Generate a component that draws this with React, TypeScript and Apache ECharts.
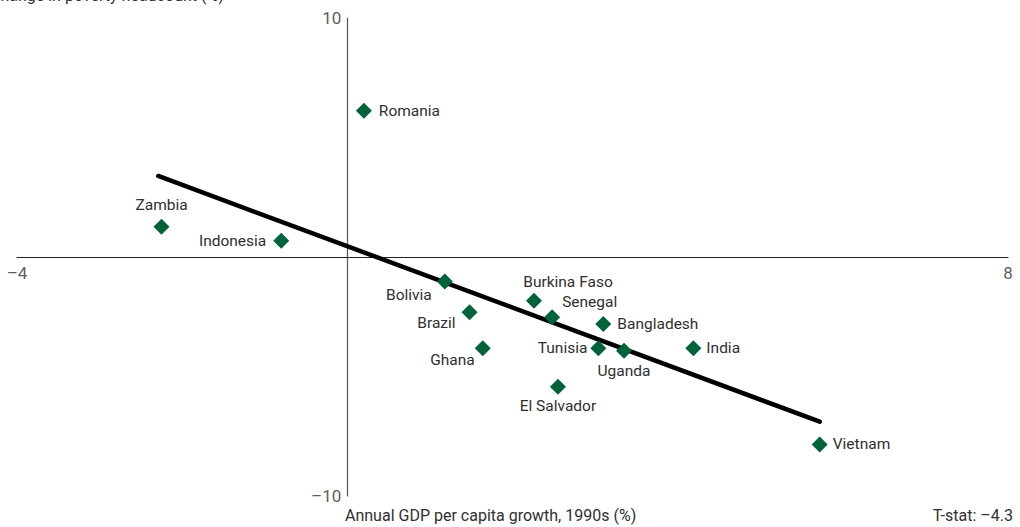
import React, { useEffect, useRef } from "react";
import * as echarts from "echarts";

const countries = ["Romania", "Zambia", "Indonesia", "Bolivia", "Brazil", "Ghana", "Burkina Faso", "Senegal", "Bangladesh", "Tunisia", "Uganda", "India", "El Salvador", "Vietnam"];
const growth = [0.2, -2.25, -0.8, 1.18, 1.48, 1.64, 2.26, 2.48, 3.1, 3.04, 3.35, 4.19, 2.55, 5.72];
const povertyChange = [6.12, 1.27, 0.68, -1.03, -2.31, -3.82, -1.83, -2.52, -2.8, -3.82, -3.92, -3.82, -5.43, -7.84];
const fitLine = [[-2.29, 3.39], [5.72, -6.89]];
const xTicks = [-4, 8];
const yTicks = [-10, 10];
const yTitle = "Change in poverty headcount (%)";
const xTitle = "Annual GDP per capita growth, 1990s (%)";
const note = "T-stat: \u20134.3";

const labelStyle: Record<string, any> = {
  Romania: { position: "right", distance: 7 },
  Zambia: { position: "top", distance: 6 },
  Indonesia: { position: "left", distance: 7 },
  Bolivia: { position: "left", distance: 5, offset: [0, 13] },
  Brazil: { position: "left", distance: 6, offset: [0, 11] },
  Ghana: { position: "left", distance: 0, offset: [0, 12] },
  "Burkina Faso": { position: "top", distance: 3, offset: [34, 0] },
  Senegal: { position: "right", distance: 2, offset: [0, -15] },
  Bangladesh: { position: "right", distance: 6 },
  Tunisia: { position: "left", distance: 3 },
  Uganda: { position: "bottom", distance: 4 },
  India: { position: "right", distance: 5 },
  "El Salvador": { position: "bottom", distance: 3 },
  Vietnam: { position: "right", distance: 5 },
};

const FONT = "Roboto, 'Liberation Sans', sans-serif";
const TEXT = "#303030";
const dash = (v: number) => String(v).replace("-", "\u2013");

export default function App() {
  const ref = useRef<HTMLDivElement>(null);
  useEffect(() => {
    if (!ref.current) return;
    const chart = echarts.init(ref.current, null, { renderer: "svg" });
    const tickLabel = { show: true, color: TEXT, fontSize: 17, fontFamily: FONT, formatter: (p: any) => p.name };
    chart.setOption({
      animation: false,
      grid: { left: 17, right: 12, top: 18, bottom: 31, containLabel: false },
      xAxis: {
        type: "value",
        min: -4,
        max: 8,
        splitLine: { show: false },
        axisLine: { onZero: true, lineStyle: { color: "#222", width: 1.2 } },
        axisTick: { show: false },
        axisLabel: { show: false },
      },
      yAxis: {
        type: "value",
        min: -10,
        max: 10,
        splitLine: { show: false },
        axisLine: { onZero: true, lineStyle: { color: "#555", width: 1.2 } },
        axisTick: { show: false },
        axisLabel: { show: false },
      },
      graphic: [
        { type: "text", left: -10, top: -13, style: { text: yTitle, fill: TEXT, fontSize: 16, fontFamily: FONT } },
        { type: "text", left: 345, top: 507, style: { text: xTitle, fill: TEXT, fontSize: 16, fontFamily: FONT } },
        { type: "text", right: 7, top: 507, style: { text: note, fill: TEXT, fontSize: 16, fontFamily: FONT } },
      ],
      series: [
        {
          type: "line",
          data: fitLine,
          symbol: "none",
          lineStyle: { color: "#000", width: 4.5, cap: "round" },
          z: 2,
        },
        {
          type: "scatter",
          symbol: "diamond",
          symbolSize: 16,
          itemStyle: { color: "#00633a", opacity: 1 },
          z: 3,
          label: { show: true, color: TEXT, fontSize: 15.5, fontFamily: FONT, formatter: "{b}" },
          emphasis: { disabled: true },
          data: countries.map((c, i) => ({
            name: c,
            value: [growth[i], povertyChange[i]],
            label: labelStyle[c],
          })),
        },
        {
          type: "scatter",
          symbolSize: 0,
          silent: true,
          data: xTicks.map((v) => ({ name: dash(v), value: [v, 0] })),
          label: { ...tickLabel, position: "bottom", distance: 7 },
        },
        {
          type: "scatter",
          symbolSize: 0,
          silent: true,
          data: yTicks.map((v) => ({ name: dash(v), value: [0, v] })),
          label: { ...tickLabel, position: "left", distance: 6 },
        },
      ],
    });
    return () => chart.dispose();
  }, []);
  return <div ref={ref} style={{ position: "absolute", left: 0, top: 0, width: 1020, height: 527 }} />;
}
